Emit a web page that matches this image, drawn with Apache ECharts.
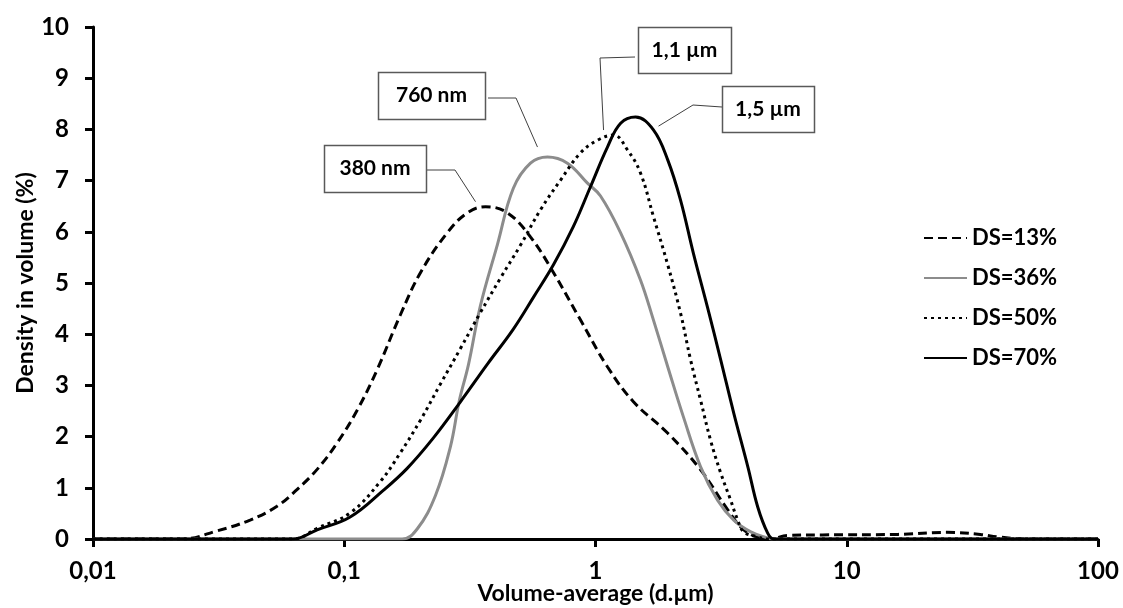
<!DOCTYPE html>
<html>
<head>
<meta charset="utf-8">
<script src="https://cdn.jsdelivr.net/npm/echarts@6/dist/echarts.min.js"></script>
<style>html,body{margin:0;padding:0;background:#fff;}#c{width:1123px;height:608px;}</style>
</head>
<body>
<div id="c"></div>
<script>
// ---- data ----
const seriesNames = ['DS=13%', 'DS=36%', 'DS=50%', 'DS=70%'];
const xTickLabels = ['0,01', '0,1', '1', '10', '100'];
const xAxisTitle = 'Volume-average (d.µm)';
const yAxisTitle = 'Density in volume (%)';
const peakLabels = ['380 nm', '760 nm', '1,1 µm', '1,5 µm'];

const ds13X = [0.01, 0.0226, 0.0312, 0.0422, 0.054, 0.065, 0.078, 0.0938, 0.1127, 0.135, 0.167, 0.201, 0.257, 0.309, 0.365, 0.446, 0.551, 0.681, 0.871, 1.117, 1.416, 1.936, 2.62, 3.36, 3.89, 4.54, 5.0, 5.8, 8.0, 16.0, 25.0, 34.0, 40.0, 54.0, 100];
const ds13Y = [0, 0, 0.16, 0.37, 0.64, 0.97, 1.36, 1.88, 2.52, 3.3, 4.37, 5.2, 5.98, 6.37, 6.49, 6.37, 5.9, 5.2, 4.28, 3.36, 2.68, 2.07, 1.35, 0.57, 0.18, 0.02, 0, 0.07, 0.08, 0.09, 0.13, 0.09, 0.04, 0, 0];

const ds36X = [0.01, 0.17, 0.1954, 0.2307, 0.2645, 0.287, 0.312, 0.348, 0.407, 0.471, 0.551, 0.644, 0.773, 0.929, 1.047, 1.259, 1.51, 1.70, 1.94, 2.24, 2.62, 3.06, 3.55, 4.15, 4.84, 5.0, 100];
const ds36Y = [0, 0, 0.2, 0.85, 1.8, 2.7, 3.4, 4.55, 5.75, 6.85, 7.34, 7.46, 7.34, 6.95, 6.7, 5.98, 5.06, 4.28, 3.36, 2.38, 1.41, 0.76, 0.37, 0.14, 0.02, 0, 0];

const ds50X = [0.01, 0.0627, 0.078, 0.1056, 0.139, 0.167, 0.201, 0.241, 0.29, 0.348, 0.419, 0.503, 0.604, 0.726, 0.871, 1.019, 1.18, 1.34, 1.51, 1.70, 1.94, 2.18, 2.39, 2.62, 2.87, 3.15, 3.45, 3.68, 3.89, 4.42, 4.84, 100];
const ds50Y = [0, 0, 0.21, 0.51, 1.12, 1.68, 2.32, 3.02, 3.72, 4.42, 5.1, 5.74, 6.43, 7.01, 7.54, 7.79, 7.89, 7.6, 7.15, 6.3, 5.35, 4.41, 3.5, 2.71, 1.93, 1.29, 0.76, 0.37, 0.14, 0.04, 0, 0];

const ds70X = [0.01, 0.0627, 0.078, 0.1056, 0.143, 0.178, 0.226, 0.29, 0.372, 0.471, 0.566, 0.681, 0.816, 0.955, 1.117, 1.259, 1.443, 1.70, 1.94, 2.18, 2.45, 2.79, 3.15, 3.55, 4.04, 4.42, 4.84, 5.12, 100];
const ds70Y = [0, 0, 0.18, 0.43, 0.95, 1.38, 1.97, 2.68, 3.42, 4.1, 4.72, 5.36, 6.1, 6.88, 7.66, 8.12, 8.24, 7.99, 7.4, 6.62, 5.59, 4.53, 3.5, 2.46, 1.41, 0.63, 0.12, 0, 0];

// ---- build ----
const FONT = 'Lato, "Open Sans", sans-serif';
const xs = [ds13X, ds36X, ds50X, ds70X];
const ys = [ds13Y, ds36Y, ds50Y, ds70Y];
const styles = [
  {color: '#000000', width: 3, type: [9, 5]},
  {color: '#8c8c8c', width: 3, type: 'solid'},
  {color: '#000000', width: 3, type: [3, 4]},
  {color: '#000000', width: 3, type: 'solid'}
];
function pairs(x, y) { return x.map((v, i) => [v, y[i]]); }

const chart = echarts.init(document.getElementById('c'), null, {renderer: 'canvas'});
const option = {
  animation: false,
  backgroundColor: '#ffffff',
  grid: {left: 93, right: 25, top: 27, bottom: 69, containLabel: false, outerBoundsMode: 'none'},
  xAxis: {
    type: 'log', logBase: 10, min: 0.01, max: 100,
    name: xAxisTitle, nameLocation: 'middle', nameGap: 43, nameMoveOverlap: false,
    nameTextStyle: {fontFamily: FONT, fontWeight: 'bold', fontSize: 23, color: '#000'},
    axisLine: {show: true, lineStyle: {color: '#000', width: 3}},
    axisTick: {show: true, length: 8, lineStyle: {color: '#000', width: 3}},
    axisLabel: {
      margin: 20, fontFamily: FONT, fontWeight: 'bold', fontSize: 24, color: '#000',
      formatter: function (v) { const i = Math.round(Math.log10(v)) + 2; return xTickLabels[i] || ''; }
    },
    splitLine: {show: false}, minorTick: {show: false}
  },
  yAxis: {
    type: 'value', min: 0, max: 10, interval: 1,
    name: yAxisTitle, nameLocation: 'middle', nameGap: 56, nameRotate: 90, nameMoveOverlap: false,
    nameTextStyle: {fontFamily: FONT, fontWeight: 'bold', fontSize: 23, color: '#000'},
    axisLine: {show: true, lineStyle: {color: '#000', width: 3}},
    axisTick: {show: true, length: 8, lineStyle: {color: '#000', width: 3}},
    axisLabel: {margin: 24, fontFamily: FONT, fontWeight: 'bold', fontSize: 24, color: '#000'},
    splitLine: {show: false}
  },
  legend: {
    orient: 'vertical', left: 923, top: 227, padding: 0,
    itemWidth: 43, itemHeight: 14, itemGap: 18,
    data: seriesNames,
    itemStyle: {opacity: 0},
    textStyle: {fontFamily: FONT, fontWeight: 'bold', fontSize: 22, color: '#000', lineHeight: 22}
  },
  series: seriesNames.map((n, i) => ({
    name: n, type: 'line', data: pairs(xs[i], ys[i]),
    smooth: 0.4, symbol: 'none', showSymbol: false,
    lineStyle: styles[i], itemStyle: {color: styles[i].color},
    emphasis: {disabled: true}
  }))
};
chart.setOption(option);

// ---- peak annotations (anchored to the data peaks through the axes) ----
const boxes = [
  {x: 324, y: 145, w: 102, h: 47, mid: [[455, 170]], from: [426, 170], off: [-10, -5]},
  {x: 378, y: 72, w: 107, h: 47, mid: [[516, 98]], from: [488, 98], off: [-10, -10]},
  {x: 638, y: 27, w: 93, h: 46, mid: [[600, 58]], from: [635, 57], off: [-10, -5]},
  {x: 722, y: 86, w: 92, h: 46, mid: [[693, 105]], from: [722, 107], off: [23, 9]}
];
const graphics = [];
boxes.forEach((b, i) => {
  const y = ys[i]; let k = 0;
  for (let j = 1; j < y.length; j++) if (y[j] > y[k]) k = j;
  const p = chart.convertToPixel({xAxisIndex: 0, yAxisIndex: 0}, [xs[i][k], y[k]]);
  const end = [p[0] + b.off[0], p[1] + b.off[1]];
  graphics.push({
    type: 'polyline', silent: true, z: 10,
    shape: {points: [b.from].concat(b.mid).concat([end])},
    style: {stroke: '#404040', lineWidth: 1, fill: null}
  });
  graphics.push({
    type: 'rect', silent: true, z: 10,
    shape: {x: b.x + 0.5, y: b.y + 0.5, width: b.w, height: b.h},
    style: {fill: '#fff', stroke: '#595959', lineWidth: 1.5}
  });
  graphics.push({
    type: 'text', silent: true, z: 11,
    x: b.x + b.w / 2, y: b.y + b.h / 2,
    style: {text: peakLabels[i], fontFamily: FONT, fontWeight: 'bold', fontSize: 21, fill: '#000',
            align: 'center', verticalAlign: 'middle'}
  });
});
chart.setOption({graphic: graphics});
</script>
</body>
</html>
